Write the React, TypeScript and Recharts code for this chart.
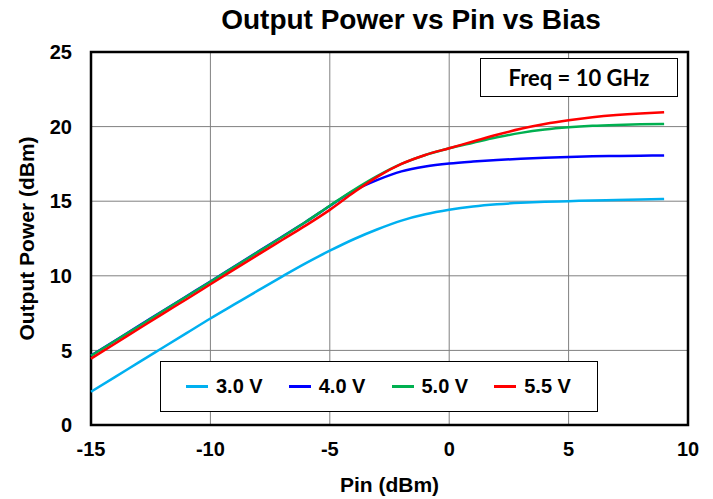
import React from 'react';
import { LineChart, Line, XAxis, YAxis, CartesianGrid, ReferenceArea } from 'recharts';

const pin = [-15, -14, -13, -12, -11, -10, -9, -8, -7, -6, -5, -4, -3, -2, -1, 0, 1, 2, 3, 4, 5, 6, 7, 8, 9];
const v30 = [2.23, 3.21, 4.2, 5.18, 6.16, 7.14, 8.08, 9.02, 9.95, 10.85, 11.68, 12.45, 13.12, 13.7, 14.12, 14.42, 14.64, 14.79, 14.89, 14.96, 15.0, 15.05, 15.08, 15.12, 15.15];
const v40 = [4.66, 5.65, 6.64, 7.64, 8.63, 9.62, 10.62, 11.62, 12.62, 13.62, 14.68, 15.7, 16.43, 17.0, 17.33, 17.53, 17.66, 17.76, 17.85, 17.92, 17.97, 18.01, 18.03, 18.05, 18.07];
const v50 = [4.64, 5.63, 6.62, 7.62, 8.61, 9.6, 10.6, 11.6, 12.6, 13.62, 14.7, 15.75, 16.7, 17.5, 18.1, 18.55, 18.92, 19.28, 19.58, 19.8, 19.95, 20.05, 20.11, 20.15, 20.18];
const v55 = [4.45, 5.45, 6.45, 7.45, 8.43, 9.43, 10.43, 11.42, 12.4, 13.38, 14.42, 15.58, 16.65, 17.5, 18.1, 18.55, 19.0, 19.45, 19.85, 20.17, 20.42, 20.62, 20.77, 20.88, 20.96];
const xTicks = [-15, -10, -5, 0, 5, 10];
const yTicks = [0, 5, 10, 15, 20, 25];
const seriesNames = ['3.0 V', '4.0 V', '5.0 V', '5.5 V'];
const seriesColors = ['#00B0F0', '#0000FF', '#00B050', '#FF0000'];
const seriesData = [v30, v40, v50, v55];
const chartTitle = 'Output Power vs Pin vs Bias';
const freqLabel = 'Freq = 10 GHz';

const data = pin.map((p, i) => ({
  pin: p,
  s0: v30[i],
  s1: v40[i],
  s2: v50[i],
  s3: v55[i],
}));

const FONT = '"Liberation Sans", Arial, sans-serif';

export default function App() {
  return (
    <div style={{ position: 'absolute', left: 0, top: 0, width: 713, height: 499, background: '#fff' }}>
      <LineChart
        width={713}
        height={499}
        data={data}
        margin={{ top: 52, right: 25, bottom: 0, left: 0 }}
        style={{ position: 'absolute', left: 0, top: 0 }}
      >
        <CartesianGrid stroke="#808080" strokeWidth={1} />
        <XAxis
          dataKey="pin"
          type="number"
          domain={[-15, 10]}
          ticks={xTicks}
          height={74}
          axisLine={false}
          tickLine={false}
          tickSize={0}
          tickMargin={17}
          tick={{ fill: '#000', fontSize: 20, fontWeight: 'bold', fontFamily: FONT }}
          label={{ value: 'Pin (dBm)', position: 'insideBottom', offset: 7, fill: '#000', fontSize: 21, fontWeight: 'bold', fontFamily: FONT }}
        />
        <YAxis
          type="number"
          domain={[0, 25]}
          ticks={yTicks}
          width={91}
          axisLine={false}
          tickLine={false}
          tickSize={0}
          tickMargin={19}
          tick={{ fill: '#000', fontSize: 20, fontWeight: 'bold', fontFamily: FONT }}
          label={{ value: 'Output Power (dBm)', angle: -90, position: 'insideLeft', offset: 27, textAnchor: 'middle', fill: '#000', fontSize: 21, fontWeight: 'bold', fontFamily: FONT }}
        />
        <ReferenceArea x1={-15} x2={10} y1={0} y2={25} fill="none" fillOpacity={0} stroke="#000" strokeWidth={2.5} ifOverflow="visible" />
        {seriesData.map((_, i) => (
          <Line
            key={i}
            type="monotone"
            dataKey={'s' + i}
            name={seriesNames[i]}
            stroke={seriesColors[i]}
            strokeWidth={2.5}
            dot={false}
            activeDot={false}
            isAnimationActive={false}
          />
        ))}
      </LineChart>
      <div
        style={{
          position: 'absolute',
          left: 0,
          top: 4,
          width: 822,
          textAlign: 'center',
          fontFamily: FONT,
          fontWeight: 'bold',
          fontSize: 28,
          color: '#000',
        }}
      >
        {chartTitle}
      </div>
      <div
        style={{
          position: 'absolute',
          left: 160,
          top: 361,
          width: 438,
          height: 51,
          border: '1.5px solid #000',
          background: '#fff',
          boxSizing: 'border-box',
          display: 'flex',
          alignItems: 'center',
          paddingLeft: 25,
          fontFamily: FONT,
          fontWeight: 'bold',
          fontSize: 20,
          color: '#000',
        }}
      >
        {seriesNames.map((name, i) => (
          <div key={i} style={{ display: 'flex', alignItems: 'center', width: 104 }}>
            <span style={{ display: 'inline-block', width: 22, height: 2.5, background: seriesColors[i], marginRight: 8 }} />
            <span>{name}</span>
          </div>
        ))}
      </div>
      <div
        style={{
          position: 'absolute',
          left: 480,
          top: 58,
          width: 198,
          height: 39,
          border: '1.5px solid #000',
          boxSizing: 'border-box',
          background: '#fff',
          display: 'flex',
          alignItems: 'center',
          justifyContent: 'center',
          fontFamily: 'Lato, "Open Sans", sans-serif',
          fontWeight: 'bold',
          fontSize: 22,
          color: '#000',
        }}
      >
        {freqLabel}
      </div>
    </div>
  );
}
